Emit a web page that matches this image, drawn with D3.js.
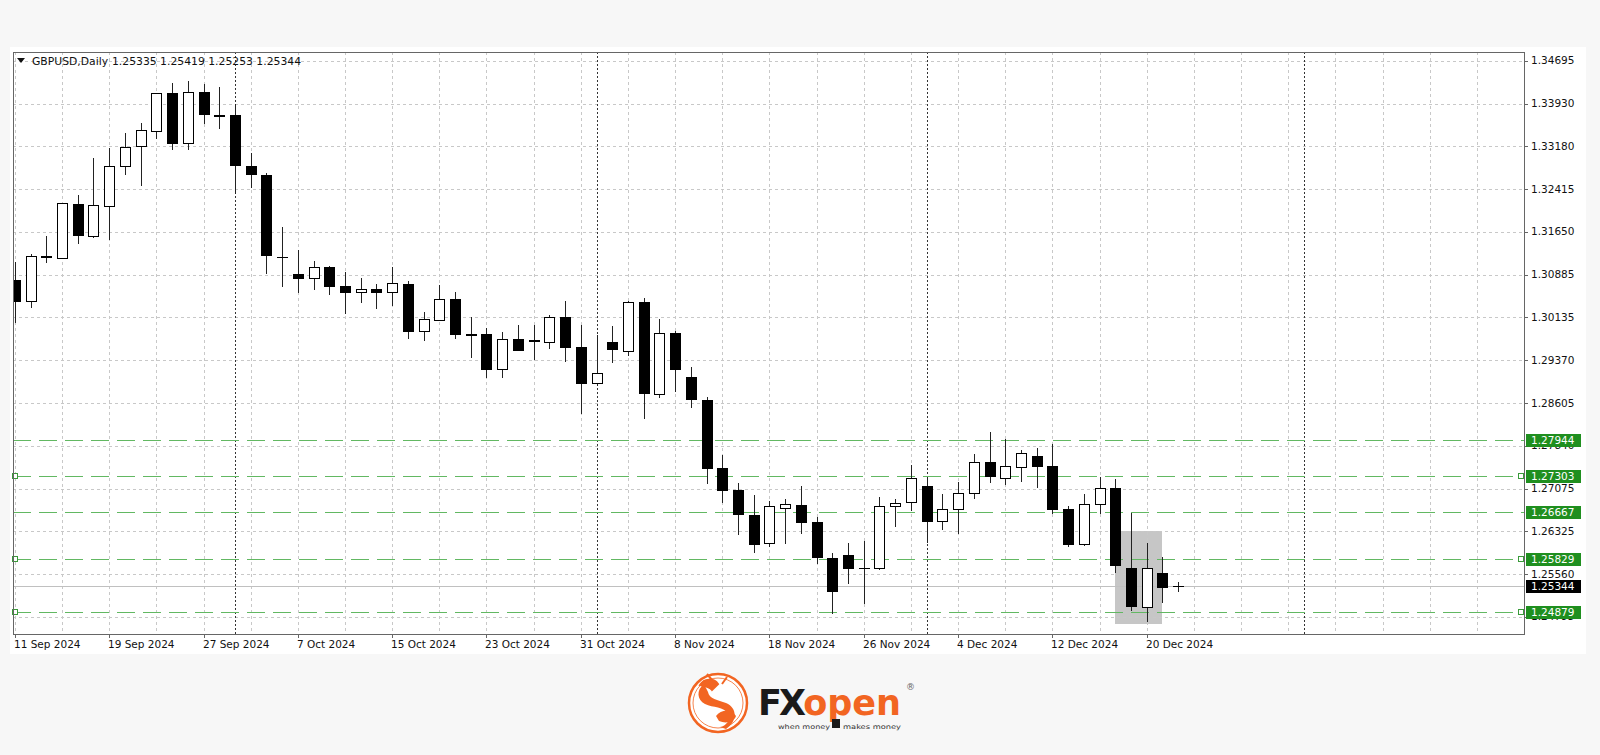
<!DOCTYPE html>
<html>
<head>
<meta charset="utf-8">
<script src="https://cdn.jsdelivr.net/npm/d3@7"></script>
<style>
  html, body { margin: 0; padding: 0; background: #f7f7f7; }
  svg { display: block; }
  text { font-family: "DejaVu Sans", Verdana, sans-serif; }
</style>
</head>
<body>
<div id="chart"></div>
<script>
// GBPUSD daily bars, 11 Sep 2024 .. 24 Dec 2024
const dates = [
  "11 Sep 2024","12 Sep 2024","13 Sep 2024","16 Sep 2024","17 Sep 2024","18 Sep 2024","19 Sep 2024","20 Sep 2024",
  "23 Sep 2024","24 Sep 2024","25 Sep 2024","26 Sep 2024","27 Sep 2024","30 Sep 2024","1 Oct 2024","2 Oct 2024",
  "3 Oct 2024","4 Oct 2024","7 Oct 2024","8 Oct 2024","9 Oct 2024","10 Oct 2024","11 Oct 2024","14 Oct 2024",
  "15 Oct 2024","16 Oct 2024","17 Oct 2024","18 Oct 2024","21 Oct 2024","22 Oct 2024","23 Oct 2024","24 Oct 2024",
  "25 Oct 2024","28 Oct 2024","29 Oct 2024","30 Oct 2024","31 Oct 2024","1 Nov 2024","4 Nov 2024","5 Nov 2024",
  "6 Nov 2024","7 Nov 2024","8 Nov 2024","11 Nov 2024","12 Nov 2024","13 Nov 2024","14 Nov 2024","15 Nov 2024",
  "18 Nov 2024","19 Nov 2024","20 Nov 2024","21 Nov 2024","22 Nov 2024","25 Nov 2024","26 Nov 2024","27 Nov 2024",
  "28 Nov 2024","29 Nov 2024","2 Dec 2024","3 Dec 2024","4 Dec 2024","5 Dec 2024","6 Dec 2024","9 Dec 2024",
  "10 Dec 2024","11 Dec 2024","12 Dec 2024","13 Dec 2024","16 Dec 2024","17 Dec 2024","18 Dec 2024","19 Dec 2024",
  "20 Dec 2024","23 Dec 2024","24 Dec 2024"
];

const opens = [
  1.30790,1.30416,1.31194,1.31187,1.32143,1.31579,1.32108,1.32820,1.33182,1.33449,
  1.34115,1.33224,1.34132,1.33710,1.33728,1.32820,1.32660,1.31205,1.30897,1.30820,
  1.31027,1.30683,1.30571,1.30635,1.30571,1.30714,1.29887,1.30078,1.30447,1.29828,
  1.29823,1.29200,1.29734,1.29704,1.29681,1.30137,1.29603,1.28962,1.29681,1.29531,
  1.30393,1.28760,1.29852,1.29058,1.28653,1.27437,1.27051,1.26606,1.26113,1.26736,
  1.26784,1.26486,1.25835,1.25893,1.25667,1.25662,1.26766,1.26832,1.27122,1.26504,
  1.26707,1.26992,1.27555,1.27259,1.27466,1.27662,1.27484,1.26713,1.26084,1.26802,
  1.27081,1.25667,1.24973,1.25578,1.25335
];
const highs = [
  1.31105,1.31253,1.31574,1.32161,1.32304,1.32968,1.33146,1.33402,1.33591,1.34120,
  1.34293,1.34339,1.34280,1.34232,1.33919,1.33046,1.32690,1.31739,1.31333,1.31134,
  1.31039,1.30927,1.30820,1.30714,1.31016,1.30772,1.30226,1.30701,1.30571,1.30137,
  1.29930,1.29870,1.29989,1.29989,1.30167,1.30416,1.29989,1.29811,1.29976,1.30416,
  1.30464,1.30090,1.29882,1.29246,1.28712,1.27674,1.27170,1.26962,1.26860,1.26885,
  1.27127,1.26575,1.25924,1.26113,1.26148,1.26932,1.26891,1.27496,1.27288,1.26974,
  1.27199,1.27692,1.28089,1.27959,1.27763,1.27793,1.27870,1.26766,1.26980,1.27277,
  1.27241,1.26647,1.26113,1.25863,1.25419
];
const lows = [
  1.30042,1.30304,1.31116,1.31182,1.31454,1.31550,1.31515,1.32672,1.32482,1.33313,
  1.33117,1.33117,1.33591,1.33491,1.32334,1.32451,1.30909,1.30692,1.30582,1.30625,
  1.30541,1.30208,1.30404,1.30286,1.30345,1.29752,1.29722,1.30078,1.29752,1.29424,
  1.29058,1.29068,1.29544,1.29384,1.29574,1.29353,1.28417,1.28921,1.29325,1.29455,
  1.28328,1.28712,1.28819,1.28534,1.27170,1.26843,1.26267,1.25952,1.26054,1.26113,
  1.26280,1.25746,1.24861,1.25390,1.25033,1.25650,1.26415,1.26695,1.26130,1.26351,
  1.26280,1.26903,1.27188,1.27158,1.27217,1.27110,1.26647,1.26054,1.26072,1.26647,
  1.25596,1.24914,1.24718,1.25062,1.25253
];
const closes = [
  1.30416,1.31223,1.31218,1.32156,1.31591,1.32126,1.32825,1.33153,1.33461,1.34115,
  1.33235,1.34143,1.33746,1.33723,1.32838,1.32672,1.31235,1.31195,1.30820,1.31016,
  1.30683,1.30571,1.30630,1.30571,1.30731,1.29887,1.30090,1.30447,1.29829,1.29818,
  1.29200,1.29745,1.29544,1.29714,1.30137,1.29603,1.28962,1.29140,1.29556,1.30393,
  1.28773,1.29841,1.29205,1.28671,1.27448,1.27051,1.26624,1.26089,1.26766,1.26796,
  1.26486,1.25863,1.25252,1.25662,1.25657,1.26766,1.26825,1.27270,1.26504,1.26707,
  1.27003,1.27555,1.27306,1.27478,1.27704,1.27484,1.26707,1.26084,1.26802,1.27081,
  1.25715,1.24991,1.25667,1.25329,1.25344
];

const priceTicks = ["1.34695","1.33930","1.33180","1.32415","1.31650","1.30885","1.30135",
  "1.29370","1.28605","1.27840","1.27075","1.26325","1.25560","1.24795"];
const dateTicks = ["11 Sep 2024","19 Sep 2024","27 Sep 2024","7 Oct 2024","15 Oct 2024","23 Oct 2024",
  "31 Oct 2024","8 Nov 2024","18 Nov 2024","26 Nov 2024","4 Dec 2024","12 Dec 2024","20 Dec 2024"];

// horizontal levels drawn on the chart
const levels = [1.27944, 1.27303, 1.26667, 1.25829, 1.24879];
const levelSelected = [false, true, false, true, true];
const lastPrice = 1.25344;

// month separators (bar index) and highlighted zone
const separators = [14, 37, 58, 82];
const zoneBars = [70, 73];
const zonePrices = [1.2632, 1.2467];

const W = 1600, H = 755;
const plot = { left: 13, right: 1524, top: 52, bottom: 634 };

const svg = d3.select("#chart").append("svg")
  .attr("width", W)
  .attr("height", H);

svg.append("rect").attr("width", W).attr("height", H).attr("fill", "#f7f7f7");
svg.append("rect")
  .attr("x", 10).attr("y", 47)
  .attr("width", 1576).attr("height", 607)
  .attr("fill", "#ffffff");

const x = d3.scaleLinear().domain([-0.12, 96]).range([plot.left, plot.right]);
const y = d3.scaleLinear().domain([1.24487, 1.34850]).range([plot.bottom, plot.top]);
const px = v => Math.round(x(v)) + 0.5;
const py = v => Math.round(y(v)) + 0.5;

svg.append("clipPath").attr("id", "plotclip")
  .append("rect")
  .attr("x", plot.left).attr("y", plot.top)
  .attr("width", plot.right - plot.left).attr("height", plot.bottom - plot.top);

const g = svg.append("g").attr("clip-path", "url(#plotclip)");

// highlighted zone
g.append("rect")
  .attr("x", Math.round(x(zoneBars[0])))
  .attr("y", Math.round(y(zonePrices[0])))
  .attr("width", Math.round(x(zoneBars[1])) - Math.round(x(zoneBars[0])))
  .attr("height", Math.round(y(zonePrices[1])) - Math.round(y(zonePrices[0])))
  .attr("fill", "#c6c6c6");

// grid
g.selectAll(".hgrid")
  .data(priceTicks)
  .enter().append("line")
  .attr("x1", plot.left).attr("x2", plot.right)
  .attr("y1", d => py(+d)).attr("y2", d => py(+d))
  .attr("stroke", "#c8c8c8")
  .attr("stroke-dasharray", "3,3");

g.selectAll(".vgrid")
  .data(d3.range(0, 97, 3))
  .enter().append("line")
  .attr("x1", d => px(d)).attr("x2", d => px(d))
  .attr("y1", plot.top).attr("y2", plot.bottom)
  .attr("stroke", "#c8c8c8")
  .attr("stroke-dasharray", "3,3");

g.selectAll(".sep")
  .data(separators)
  .enter().append("line")
  .attr("x1", d => px(d)).attr("x2", d => px(d))
  .attr("y1", plot.top).attr("y2", plot.bottom)
  .attr("stroke", "#333")
  .attr("stroke-dasharray", "2,2");

// last price line
g.append("line")
  .attr("x1", plot.left).attr("x2", plot.right)
  .attr("y1", py(lastPrice)).attr("y2", py(lastPrice))
  .attr("stroke", "#c0c0c0");

// level lines
g.selectAll(".level")
  .data(levels)
  .enter().append("line")
  .attr("x1", plot.left).attr("x2", plot.right)
  .attr("y1", d => py(d)).attr("y2", d => py(d))
  .attr("stroke", "#62b862")
  .attr("stroke-dasharray", "18,8");

// candles
const bars = dates.map((d, i) => ({
  i, date: d, o: opens[i], h: highs[i], l: lows[i], c: closes[i]
}));

const candle = g.selectAll(".candle")
  .data(bars)
  .enter().append("g")
  .attr("class", "candle");

candle.append("line")
  .attr("x1", d => px(d.i)).attr("x2", d => px(d.i))
  .attr("y1", d => Math.round(y(d.h))).attr("y2", d => Math.round(y(d.l)) + 1)
  .attr("stroke", "#222");

candle.each(function (d) {
  const sel = d3.select(this);
  const cx = Math.round(x(d.i));
  const top = Math.round(y(Math.max(d.o, d.c)));
  const bot = Math.round(y(Math.min(d.o, d.c)));
  if (bot - top < 1) {
    sel.append("line")
      .attr("x1", cx - 5).attr("x2", cx + 6)
      .attr("y1", top + 0.5).attr("y2", top + 0.5)
      .attr("stroke", "#000");
  } else {
    sel.append("rect")
      .attr("x", cx - 4.5).attr("y", top + 0.5)
      .attr("width", 10).attr("height", bot - top)
      .attr("fill", d.c < d.o ? "#000" : "#fff")
      .attr("stroke", "#000");
  }
});

// selection handles on some levels
levels.forEach((lv, k) => {
  if (!levelSelected[k]) return;
  [plot.left + 2, plot.right - 3].forEach(hx => {
    svg.append("rect")
      .attr("x", hx - 2.5).attr("y", py(lv) - 3)
      .attr("width", 5).attr("height", 5)
      .attr("fill", "#fff")
      .attr("stroke", "#3a9a3a");
  });
});

// frame
svg.append("rect")
  .attr("x", plot.left + 0.5).attr("y", plot.top + 0.5)
  .attr("width", plot.right - plot.left).attr("height", plot.bottom - plot.top)
  .attr("fill", "none")
  .attr("stroke", "#666");

// price axis
const pAxis = svg.append("g");
pAxis.selectAll("line")
  .data(priceTicks)
  .enter().append("line")
  .attr("x1", plot.right).attr("x2", plot.right + 4)
  .attr("y1", d => py(+d)).attr("y2", d => py(+d))
  .attr("stroke", "#666");
pAxis.selectAll("text")
  .data(priceTicks)
  .enter().append("text")
  .attr("x", plot.right + 7)
  .attr("y", d => y(+d))
  .attr("dy", "0.36em")
  .style("font-size", "10.5px")
  .attr("fill", "#111")
  .text(d => d);

// level labels (cover the grid labels underneath, as in the terminal)
const lvLab = svg.selectAll(".lvlab")
  .data(levels)
  .enter().append("g");
lvLab.append("rect")
  .attr("x", plot.right + 2).attr("y", d => Math.round(y(d)) - 6)
  .attr("width", 55).attr("height", 13)
  .attr("fill", "#1f8f1f");
lvLab.append("text")
  .attr("x", plot.right + 7)
  .attr("y", d => Math.round(y(d)) + 0.5)
  .attr("dy", "0.36em")
  .style("font-size", "10.5px")
  .attr("fill", "#fff")
  .text(d => d.toFixed(5));

svg.append("rect")
  .attr("x", plot.right + 2).attr("y", Math.round(y(lastPrice)) - 6)
  .attr("width", 55).attr("height", 13)
  .attr("fill", "#000");
svg.append("text")
  .attr("x", plot.right + 7)
  .attr("y", Math.round(y(lastPrice)) + 0.5)
  .attr("dy", "0.36em")
  .style("font-size", "10.5px")
  .attr("fill", "#fff")
  .text(lastPrice.toFixed(5));

// time axis
const tAxis = svg.append("g");
tAxis.selectAll("line")
  .data(dateTicks)
  .enter().append("line")
  .attr("x1", d => px(dates.indexOf(d))).attr("x2", d => px(dates.indexOf(d)))
  .attr("y1", plot.bottom).attr("y2", plot.bottom + 4)
  .attr("stroke", "#666");
tAxis.selectAll("text")
  .data(dateTicks)
  .enter().append("text")
  .attr("x", d => Math.round(x(dates.indexOf(d))) - 1)
  .attr("y", plot.bottom + 14)
  .style("font-size", "10.5px")
  .attr("fill", "#111")
  .text(d => d);

// header
const last = bars[bars.length - 1];
svg.append("path")
  .attr("d", "M17,58 L25,58 L21,63 Z")
  .attr("fill", "#111");
svg.append("text")
  .attr("x", 32).attr("y", 65)
  .style("font-size", "10.8px")
  .attr("fill", "#111")
  .text("GBPUSD,Daily");
svg.append("text")
  .attr("x", 112).attr("y", 65)
  .attr("textLength", 189)
  .style("font-size", "10.8px")
  .attr("fill", "#111")
  .text([last.o, last.h, last.l, last.c].map(v => v.toFixed(5)).join(" "));

// FXOpen logo
const logo = svg.append("g");
const orange = "#f26522";
logo.append("circle")
  .attr("cx", 718).attr("cy", 703).attr("r", 29)
  .attr("fill", "#fff")
  .attr("stroke", orange)
  .attr("stroke-width", 2.5);
logo.append("circle")
  .attr("cx", 718).attr("cy", 703).attr("r", 25)
  .attr("fill", "none")
  .attr("stroke", orange)
  .attr("stroke-width", 0.8);
logo.append("path")
  .attr("d", "M704,684 C696,690 697,700 705,704 C713,708 724,706 728,714 C731,720 726,726 720,727" +
             " L726,729 C737,722 738,708 726,703 C718,700 709,699 708,692 Z")
  .attr("fill", orange);
logo.append("path")
  .attr("d", "M700,685 C704,678 714,678 718,684 L712,690 C709,686 704,686 700,685 Z" +
             " M712,680 L707,674 M722,684 L727,677")
  .attr("fill", orange)
  .attr("stroke", orange)
  .attr("stroke-width", 2);
logo.append("path")
  .attr("d", "M716,716 C721,709 732,709 736,716 C734,722 726,724 719,721 Z")
  .attr("fill", orange);

const brand = logo.append("text")
  .attr("x", 758).attr("y", 715)
  .attr("textLength", 143)
  .attr("lengthAdjust", "spacingAndGlyphs")
  .style("font-size", "36px")
  .style("font-weight", "bold");
brand.append("tspan")
  .attr("fill", "#1a1a1a")
  .style("letter-spacing", "-3px")
  .text("FX");
brand.append("tspan")
  .attr("fill", orange)
  .text("open");

logo.append("rect")
  .attr("x", 832).attr("y", 719).attr("width", 8).attr("height", 9)
  .attr("fill", "#1a1a1a");
logo.append("text")
  .attr("x", 778).attr("y", 729)
  .attr("textLength", 52)
  .attr("lengthAdjust", "spacingAndGlyphs")
  .style("font-size", "6.5px")
  .attr("fill", "#333")
  .text("when money");
logo.append("text")
  .attr("x", 843).attr("y", 729)
  .attr("textLength", 58)
  .attr("lengthAdjust", "spacingAndGlyphs")
  .style("font-size", "6.5px")
  .attr("fill", "#333")
  .text("makes money");
logo.append("text")
  .attr("x", 906).attr("y", 690)
  .style("font-size", "9px")
  .attr("fill", "#666")
  .text("®");
</script>
</body>
</html>
